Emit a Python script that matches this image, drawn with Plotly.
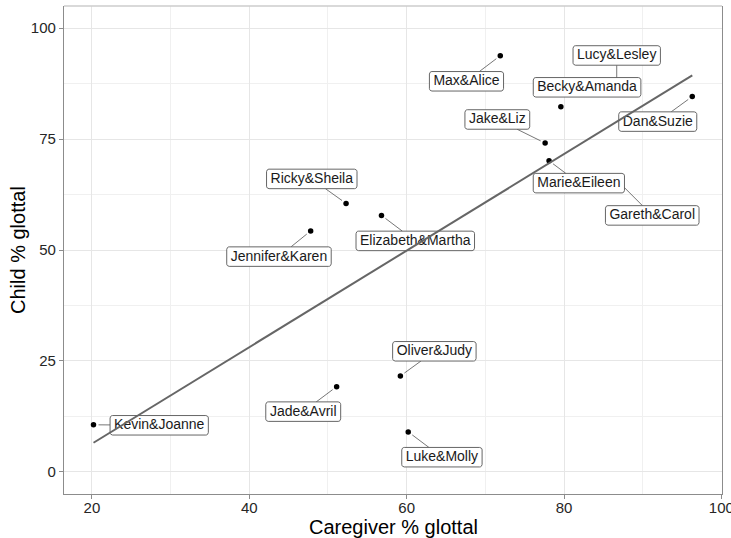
import numpy as np
import plotly.graph_objects as go

# ---------------- data ----------------
pairs = ["Kevin&Joanne", "Jade&Avril", "Oliver&Judy", "Luke&Molly", "Ricky&Sheila",
         "Elizabeth&Martha", "Jennifer&Karen", "Max&Alice", "Becky&Amanda", "Dan&Suzie",
         "Jake&Liz", "Marie&Eileen", "Gareth&Carol", "Lucy&Lesley"]
caregiver = [20.2, 51.1, 59.2, 60.2, 52.3, 56.8, 47.8, 71.9, 79.6, 96.3, 77.6, 78.1, 86.7, 86.7]
child = [10.6, 19.2, 21.6, 9.0, 60.5, 57.8, 54.3, 93.8, 82.3, 84.6, 74.1, 70.1, 65.8, 86.3]
x_ticks = [20, 40, 60, 80, 100]
y_ticks = [0, 25, 50, 75, 100]

# ---------------- layout / label placement (pixels) ----------------
W, H = 731, 538
ML, MR, MT, MB = 64, 9, 6, 44
PW, PH = W - ML - MR, H - MT - MB
xr = [16.45, 100.08]
yr = [-5, 105]
sx = PW / (xr[1] - xr[0])
sy = PH / (yr[1] - yr[0])

label_offset = {
    "Kevin&Joanne": (65.7, 0.5),
    "Jade&Avril": (-33.4, 25.0),
    "Oliver&Judy": (34.0, -24.7),
    "Luke&Molly": (33.7, 25.3),
    "Ricky&Sheila": (-34.3, -24.5),
    "Elizabeth&Martha": (33.8, 25.5),
    "Jennifer&Karen": (-31.7, 25.7),
    "Max&Alice": (-33.8, 25.6),
    "Becky&Amanda": (26.2, -19.4),
    "Dan&Suzie": (-34.5, 25.1),
    "Jake&Liz": (-47.8, -23.6),
    "Marie&Eileen": (29.8, 22.3),
    "Gareth&Carol": (35.5, 35.5),
    "Lucy&Lesley": (0.0, -33.5),
}
no_segment = {"Becky&Amanda"}

FONT = "Liberation Sans, Arial, sans-serif"
LABEL_SIZE = 14
# Arial advance widths (per 1000 em)
cw = {'A': 667, 'B': 667, 'C': 722, 'D': 722, 'E': 667, 'G': 778, 'J': 500, 'K': 667,
      'L': 556, 'M': 833, 'O': 778, 'R': 722, 'S': 667, 'a': 556, 'b': 556, 'c': 500,
      'd': 556, 'e': 556, 'f': 278, 'h': 556, 'i': 222, 'j': 222, 'k': 500, 'l': 222,
      'm': 833, 'n': 556, 'o': 556, 'r': 333, 's': 500, 't': 278, 'u': 556, 'v': 500,
      'x': 500, 'y': 500, 'z': 500, '&': 667}


def text_w(s):
    return sum(cw.get(c, 556) for c in s) / 1000 * LABEL_SIZE


def to_px(x, y):
    return ML + (x - xr[0]) * sx, MT + (yr[1] - y) * sy


def to_data(px, py):
    return xr[0] + (px - ML) / sx, yr[1] - (py - MT) / sy


def rrect(cx, cy, w, h, r=2.5, n=5):
    pts = []
    corners = [(cx + w / 2 - r, cy - h / 2 + r, -90, 0),
               (cx + w / 2 - r, cy + h / 2 - r, 0, 90),
               (cx - w / 2 + r, cy + h / 2 - r, 90, 180),
               (cx - w / 2 + r, cy - h / 2 + r, 180, 270)]
    for (ccx, ccy, a0, a1) in corners:
        for a in np.linspace(np.radians(a0), np.radians(a1), n):
            pts.append((ccx + r * np.cos(a), ccy + r * np.sin(a)))
    pts.append(pts[0])
    return pts


box_x, box_y, seg_x, seg_y, txt_x, txt_y = [], [], [], [], [], []
BOX_H = 19.5
GAP = 5
for name, x, y in zip(pairs, caregiver, child):
    px, py = to_px(x, y)
    dx, dy = label_offset[name]
    cx, cy = px + dx, py + dy
    bw = text_w(name) + 8
    for (qx, qy) in rrect(cx, cy, bw, BOX_H):
        X, Y = to_data(qx, qy)
        box_x.append(X)
        box_y.append(Y)
    box_x.append(None)
    box_y.append(None)
    tx, ty = to_data(cx, cy + 0.5)
    txt_x.append(tx)
    txt_y.append(ty)
    if name in no_segment:
        continue
    vx, vy = px - cx, py - cy
    dist = np.hypot(vx, vy)
    t = min((bw / 2) / abs(vx) if vx else 1e9, (BOX_H / 2) / abs(vy) if vy else 1e9)
    s0 = (cx + vx * t, cy + vy * t)
    s1 = (px - vx / dist * GAP, py - vy / dist * GAP)
    for q in (s0, s1):
        X, Y = to_data(*q)
        seg_x.append(X)
        seg_y.append(Y)
    seg_x.append(None)
    seg_y.append(None)

coef = np.polyfit(caregiver, child, 1)
fit_x = [min(caregiver), max(caregiver)]
fit_y = list(np.polyval(coef, fit_x))

fig = go.Figure()
fig.add_trace(go.Scatter(x=caregiver, y=child, mode="markers",
                         marker=dict(color="black", size=5.5), hoverinfo="skip"))
fig.add_trace(go.Scatter(x=seg_x, y=seg_y, mode="lines",
                         line=dict(color="#666666", width=0.9), hoverinfo="skip"))
fig.add_trace(go.Scatter(x=box_x, y=box_y, mode="lines", fill="toself",
                         fillcolor="white", line=dict(color="#555555", width=0.9),
                         hoverinfo="skip"))
fig.add_trace(go.Scatter(x=txt_x, y=txt_y, mode="text", text=pairs,
                         textposition="middle center",
                         textfont=dict(family=FONT, size=LABEL_SIZE, color="#1a1a1a"),
                         hoverinfo="skip"))
fig.add_trace(go.Scatter(x=fit_x, y=fit_y, mode="lines",
                         line=dict(color="#666666", width=2), hoverinfo="skip"))

axis_common = dict(showline=True, linecolor="#8c8c8c", linewidth=1.3,
                   ticks="outside", ticklen=4, tickwidth=1, tickcolor="#8c8c8c",
                   tickfont=dict(family=FONT, size=15, color="#262626"),
                   ticklabeloverflow="allow", automargin=False,
                   showgrid=True, gridcolor="#e6e6e6", gridwidth=1, zeroline=False)

fig.update_layout(
    width=W, height=H,
    margin=dict(l=ML, r=MR, t=MT, b=MB, autoexpand=False),
    paper_bgcolor="white", plot_bgcolor="white",
    showlegend=False,
    xaxis=dict(range=xr, tickvals=x_ticks, ticklabelstandoff=-4, **axis_common,
               minor=dict(tickvals=[30, 50, 70, 90], showgrid=True,
                          gridcolor="#f0f0f0", gridwidth=0.7, ticks="")),
    yaxis=dict(range=yr, tickvals=y_ticks, mirror=True, **axis_common,
               minor=dict(tickvals=[12.5, 37.5, 62.5, 87.5], showgrid=True,
                          gridcolor="#f0f0f0", gridwidth=0.7, ticks="")),
    shapes=[dict(type="line", xref="paper", yref="paper", x0=0, x1=1, y0=1, y1=1,
                 line=dict(color="#cccccc", width=1.3))],
    annotations=[
        dict(text="Caregiver % glottal", xref="paper", yref="paper",
             x=0.5, y=(PH - (527 - MT)) / PH, xanchor="center", yanchor="middle",
             showarrow=False, font=dict(family=FONT, size=20, color="black")),
        dict(text="Child % glottal", xref="paper", yref="paper",
             x=(18 - ML) / PW, y=0.5, xanchor="center", yanchor="middle",
             textangle=-90, showarrow=False,
             font=dict(family=FONT, size=20, color="black")),
    ],
)

fig.write_html("out.html")
